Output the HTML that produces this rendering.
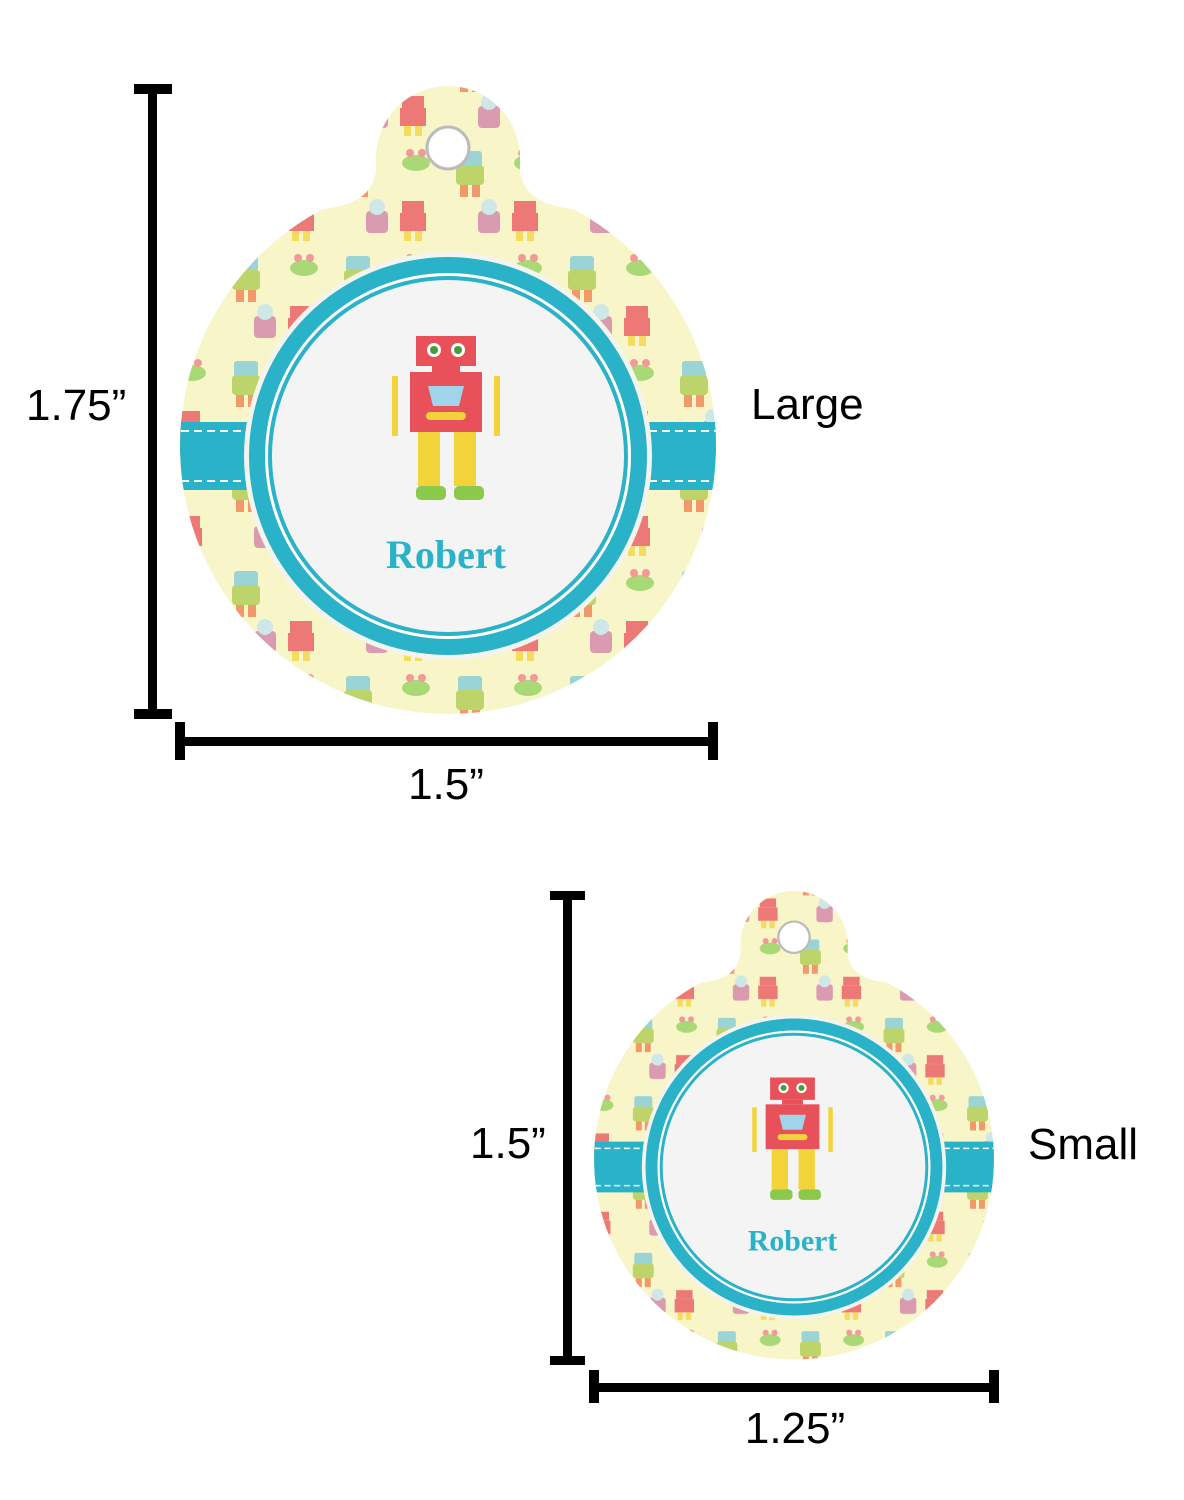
<!DOCTYPE html>
<html><head><meta charset="utf-8"><style>
html,body{margin:0;padding:0;background:#fff;}
svg{display:block;}
</style></head><body>
<svg width="1184" height="1500" viewBox="0 0 1184 1500" xmlns="http://www.w3.org/2000/svg">
<defs>
<clipPath id="tc">
  <path d="M -72 -298 A 72 72 0 0 1 72 -298 L 72 -285 Q 76 -252 125 -247 A 268 268 0 1 1 -125 -247 Q -76 -252 -72 -285 Z"/>
</clipPath>
<pattern id="pt" x="0" y="0" width="112" height="105" patternUnits="userSpaceOnUse">
  <rect x="10" y="10" width="24" height="16" rx="3" fill="#7bc9d9"/>
  <rect x="8" y="24" width="28" height="20" rx="4" fill="#a8c94a"/>
  <rect x="12" y="44" width="8" height="12" fill="#f07a4a"/>
  <rect x="24" y="44" width="8" height="12" fill="#f07a4a"/>
  <rect x="66" y="60" width="22" height="12" fill="#e8505a"/>
  <rect x="64" y="72" width="26" height="18" fill="#e8505a"/>
  <rect x="68" y="90" width="7" height="10" fill="#f2d43a"/>
  <rect x="79" y="90" width="7" height="10" fill="#f2d43a"/>
  <ellipse cx="80" cy="22" rx="14" ry="8" fill="#8fd05a"/>
  <circle cx="74" cy="12" r="4" fill="#f07a8a"/>
  <circle cx="86" cy="12" r="4" fill="#f07a8a"/>
  <rect x="30" y="70" width="22" height="22" rx="4" fill="#c04a9a" opacity=".7"/>
  <circle cx="41" cy="66" r="8" fill="#bfe4f0"/>
</pattern>
</defs>

<!-- LARGE TAG -->
<g transform="translate(448,456)">
  <g clip-path="url(#tc)">
    <rect x="-300" y="-400" width="600" height="700" fill="#f8f5c9"/>
    <rect x="-300" y="-400" width="600" height="700" fill="url(#pt)" opacity=".75"/>
    <rect x="-280" y="-34" width="560" height="68" fill="#29b2c8"/>
    <line x1="-280" y1="-25" x2="280" y2="-25" stroke="#fff" stroke-width="2" stroke-dasharray="8 5"/>
    <line x1="-280" y1="25" x2="280" y2="25" stroke="#fff" stroke-width="2" stroke-dasharray="8 5"/>
  </g>
  <circle cx="0" cy="-308" r="21" fill="#fff" stroke="#bbb" stroke-width="3"/>
  <circle cx="0" cy="0" r="204" fill="#f4f4ee"/>
  <circle cx="0" cy="0" r="199" fill="#29b2c8"/>
  <circle cx="0" cy="0" r="183" fill="#fff"/>
  <circle cx="0" cy="0" r="180" fill="#29b2c8"/>
  <circle cx="0" cy="0" r="176" fill="#f4f4f4"/>
  <g transform="translate(-2,0)">
    <rect x="-30" y="-120" width="60" height="30" fill="#e8505a"/>
    <circle cx="-12" cy="-106" r="7" fill="#fff"/><circle cx="-12" cy="-106" r="4" fill="#4a9a3a"/>
    <circle cx="12" cy="-106" r="7" fill="#fff"/><circle cx="12" cy="-106" r="4" fill="#4a9a3a"/>
    <rect x="-14" y="-90" width="28" height="6" fill="#e8505a"/>
    <rect x="-36" y="-84" width="72" height="60" fill="#e8505a"/>
    <path d="M-18 -70 h36 l-5 20 h-26 z" fill="#9fd4ea"/>
    <rect x="-20" y="-44" width="40" height="8" rx="4" fill="#f2d43a"/>
    <rect x="-54" y="-80" width="6" height="60" fill="#f2d43a"/>
    <rect x="48" y="-80" width="6" height="60" fill="#f2d43a"/>
    <rect x="-28" y="-24" width="22" height="54" fill="#f2d43a"/>
    <rect x="8" y="-24" width="22" height="54" fill="#f2d43a"/>
    <rect x="-30" y="30" width="30" height="14" rx="5" fill="#8cc84a"/>
    <rect x="8" y="30" width="30" height="14" rx="5" fill="#8cc84a"/>
  </g>
  <text x="-2" y="112" font-family="Liberation Serif, serif" font-weight="bold" font-size="40" fill="#29b2c8" text-anchor="middle">Robert</text>
</g>

<!-- SMALL TAG -->
<g transform="translate(794,1167) scale(0.746)">
  <g clip-path="url(#tc)">
    <rect x="-300" y="-400" width="600" height="700" fill="#f8f5c9"/>
    <rect x="-300" y="-400" width="600" height="700" fill="url(#pt)" opacity=".75"/>
    <rect x="-280" y="-34" width="560" height="68" fill="#29b2c8"/>
    <line x1="-280" y1="-25" x2="280" y2="-25" stroke="#fff" stroke-width="2" stroke-dasharray="8 5"/>
    <line x1="-280" y1="25" x2="280" y2="25" stroke="#fff" stroke-width="2" stroke-dasharray="8 5"/>
  </g>
  <circle cx="0" cy="-308" r="21" fill="#fff" stroke="#bbb" stroke-width="3"/>
  <circle cx="0" cy="0" r="204" fill="#f4f4ee"/>
  <circle cx="0" cy="0" r="199" fill="#29b2c8"/>
  <circle cx="0" cy="0" r="183" fill="#fff"/>
  <circle cx="0" cy="0" r="180" fill="#29b2c8"/>
  <circle cx="0" cy="0" r="176" fill="#f4f4f4"/>
  <g transform="translate(-2,0)">
    <rect x="-30" y="-120" width="60" height="30" fill="#e8505a"/>
    <circle cx="-12" cy="-106" r="7" fill="#fff"/><circle cx="-12" cy="-106" r="4" fill="#4a9a3a"/>
    <circle cx="12" cy="-106" r="7" fill="#fff"/><circle cx="12" cy="-106" r="4" fill="#4a9a3a"/>
    <rect x="-14" y="-90" width="28" height="6" fill="#e8505a"/>
    <rect x="-36" y="-84" width="72" height="60" fill="#e8505a"/>
    <path d="M-18 -70 h36 l-5 20 h-26 z" fill="#9fd4ea"/>
    <rect x="-20" y="-44" width="40" height="8" rx="4" fill="#f2d43a"/>
    <rect x="-54" y="-80" width="6" height="60" fill="#f2d43a"/>
    <rect x="48" y="-80" width="6" height="60" fill="#f2d43a"/>
    <rect x="-28" y="-24" width="22" height="54" fill="#f2d43a"/>
    <rect x="8" y="-24" width="22" height="54" fill="#f2d43a"/>
    <rect x="-30" y="30" width="30" height="14" rx="5" fill="#8cc84a"/>
    <rect x="8" y="30" width="30" height="14" rx="5" fill="#8cc84a"/>
  </g>
  <text x="-2" y="112" font-family="Liberation Serif, serif" font-weight="bold" font-size="40" fill="#29b2c8" text-anchor="middle">Robert</text>
</g>

<g fill="#000">
  <rect x="148" y="86" width="9" height="630"/>
  <rect x="134" y="84" width="38" height="10"/>
  <rect x="134" y="709" width="38" height="10"/>
  <rect x="178" y="737" width="538" height="9"/>
  <rect x="175" y="722" width="10" height="38"/>
  <rect x="708" y="722" width="10" height="38"/>

  <rect x="563" y="893" width="9" height="470"/>
  <rect x="550" y="891" width="35" height="9"/>
  <rect x="550" y="1356" width="35" height="9"/>
  <rect x="592" y="1383" width="404" height="9"/>
  <rect x="589" y="1370" width="10" height="33"/>
  <rect x="989" y="1370" width="10" height="33"/>
</g>
<g font-family="Liberation Sans, sans-serif" font-size="44" fill="#000">
  <text x="26" y="420">1.75”</text>
  <text x="751" y="419">Large</text>
  <text x="446" y="799" text-anchor="middle">1.5”</text>
  <text x="470" y="1158">1.5”</text>
  <text x="1028" y="1159">Small</text>
  <text x="795" y="1443" text-anchor="middle">1.25”</text>
</g>
</svg>
</body></html>
